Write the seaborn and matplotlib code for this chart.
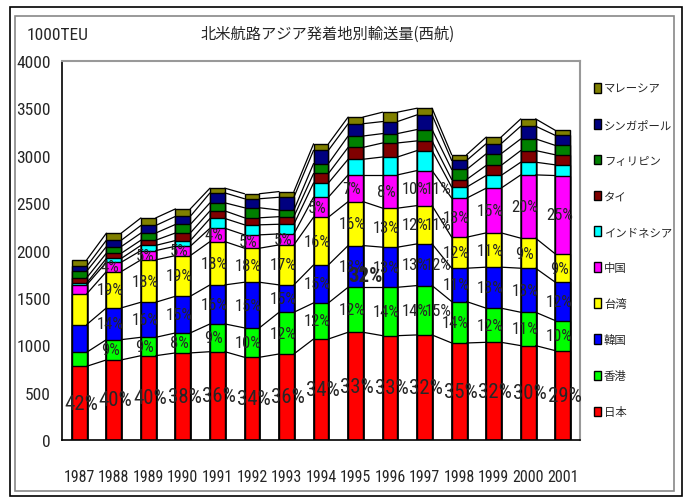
import numpy as np
import pandas as pd
import matplotlib
matplotlib.use("Agg")
import matplotlib.pyplot as plt
from matplotlib import font_manager
from matplotlib.patches import Patch, Rectangle
import seaborn as sns

# 年次
years = ["1987", "1988", "1989", "1990", "1991", "1992", "1993", "1994",
         "1995", "1996", "1997", "1998", "1999", "2000", "2001"]

# 1000TEU, 下から積み上げ順
japan     = [778, 845, 890, 919, 932, 873, 908, 1066, 1137, 1101, 1109, 1024, 1031, 996, 943]
hongkong  = [148, 214, 194, 211, 293, 310, 440, 381, 475, 511, 521, 437, 360, 352, 317]
korea     = [292, 335, 370, 387, 412, 482, 289, 401, 440, 423, 440, 352, 433, 465, 405]
taiwan    = [324, 383, 447, 429, 457, 359, 422, 504, 464, 412, 404, 327, 362, 317, 299]
china     = [95, 99, 98, 99, 141, 141, 116, 211, 282, 351, 370, 412, 472, 668, 827]
indonesia = [20, 40, 55, 60, 103, 106, 102, 150, 165, 189, 211, 116, 134, 134, 113]
thailand  = [55, 55, 55, 80, 80, 74, 80, 100, 125, 148, 102, 81, 106, 123, 106]
philippines = [70, 70, 75, 90, 85, 106, 70, 105, 120, 99, 120, 106, 123, 123, 99]
singapore = [50, 67, 80, 85, 105, 95, 135, 140, 130, 127, 155, 95, 106, 134, 106]
malaysia  = [69, 75, 80, 79, 50, 53, 60, 68, 70, 99, 70, 60, 70, 77, 53]

# ラベル(%)
pct_japan  = [42, 40, 40, 38, 36, 34, 36, 34, 33, 33, 32, 35, 32, 30, 29]
pct_hk     = [None, 9, 9, 8, 9, 10, 12, 12, 12, 14, 14, 14, 12, 11, 10]
pct_korea  = [None, 14, 16, 15, 16, 15, 15, 15, 13, 13, 13, 11, 13, 13, 12]
pct_taiwan = [None, 19, 18, 19, 18, 18, 17, 16, 16, 13, 12, 12, 11, 9, 9]
pct_china  = [None, 4, 5, 5, 4, 5, 5, 5, 7, 8, 10, 13, 15, 20, 25]
# 1997年に重なって出ている2つ目のラベル
pct_1997_extra = {"香港": 15, "韓国": 12, "台湾": 11, "中国": 11}
stray_label = "32%"

names = ["日本", "香港", "韓国", "台湾", "中国", "インドネシア", "タイ",
         "フィリピン", "シンガポール", "マレーシア"]
series = [japan, hongkong, korea, taiwan, china, indonesia, thailand,
          philippines, singapore, malaysia]
colors = ["#FF0000", "#00FF00", "#0000FF", "#FFFF00", "#FF00FF", "#00FFFF",
          "#800000", "#008000", "#000080", "#808000"]

df = pd.DataFrame(dict(zip(names, series)), index=years)
cum = df.cumsum(axis=1)

sns.set_style("white")

# 細めの欧文フォントを探す
installed = {f.name for f in font_manager.fontManager.ttflist}
narrow_fam = None
for cand in ["Liberation Sans Narrow", "Roboto Condensed", "Open Sans Condensed",
             "Noto Sans Condensed", "DejaVu Sans Condensed"]:
    if cand in installed:
        narrow_fam = cand
        break
condensed_dv = any(f.name == "DejaVu Sans" and f.stretch in ("condensed", 500 - 125)
                   for f in font_manager.fontManager.ttflist)
if narrow_fam:
    plt.rcParams["font.family"] = [narrow_fam, "DejaVu Sans"]
    stretch = "normal"
    k = 1.0
else:
    plt.rcParams["font.family"] = ["DejaVu Sans"]
    stretch = "condensed" if condensed_dv else "normal"
    k = 0.85 if condensed_dv else 0.72
plt.rcParams["font.stretch"] = stretch
jp = ["Noto Sans CJK JP", "DejaVu Sans"]

fig = plt.figure(figsize=(6.88, 5.02), dpi=100)
ax = fig.add_axes([62 / 688, 61 / 502, 518 / 688, 379 / 502])

bar_w = 0.43
# 上の系列から順に累積値を描き、下の系列で上書きする
for name, col in reversed(list(zip(names, colors))):
    sns.barplot(x=years, y=cum[name].values, color=col, width=bar_w,
                edgecolor="black", linewidth=1.0, errorbar=None, ax=ax,
                saturation=1)

# 系列線
xs = np.arange(len(years))
for name in names:
    v = cum[name].values
    for i in range(len(years) - 1):
        ax.plot([xs[i] + bar_w / 2, xs[i + 1] - bar_w / 2], [v[i], v[i + 1]],
                color="black", lw=0.9, zorder=1)

# データラベル
label_sets = [("日本", pct_japan), ("香港", pct_hk), ("韓国", pct_korea),
              ("台湾", pct_taiwan), ("中国", pct_china)]
for name, pcts in label_sets:
    top = cum[name].values
    bottom = top - df[name].values
    for i, p in enumerate(pcts):
        if p is None:
            continue
        big = name == "日本"
        dx = 0.05 if big else -0.1
        if years[i] == "1997" and not big:
            dx = -0.28
        ax.text(xs[i] + dx, (top[i] + bottom[i]) / 2, f"{p}%",
                ha="center", va="center", fontsize=(15 if big else 12) * k,
                zorder=5)
i97 = years.index("1997")
for name, p in pct_1997_extra.items():
    top = cum[name].values[i97]
    bottom = top - df[name].values[i97]
    ax.text(xs[i97] + 0.4, (top + bottom) / 2, f"{p}%", ha="center",
            va="center", fontsize=12 * k, zorder=5)
ax.text(8.28, 1740, stray_label, ha="center", va="center", fontsize=15 * k,
        fontweight="bold", zorder=6)

ax.set_xlim(-0.5, len(years) - 0.5)
ax.set_ylim(0, 4000)
ax.set_yticks(np.arange(0, 4001, 500))
ax.tick_params(axis="y", direction="in", length=4, pad=8, labelsize=12.5 * k)
ax.set_xticks(xs)
ax.set_xticklabels(years)
ax.tick_params(axis="x", length=0, pad=21, labelsize=11.5 * k)
ax.set_xticks(xs[:-1] + 0.5, minor=True)
ax.tick_params(axis="x", which="minor", direction="in", length=4)
ax.set_xlabel("")
ax.set_ylabel("")
for s in ["left", "bottom"]:
    ax.spines[s].set_color("black")
    ax.spines[s].set_linewidth(1.2)
for s in ["top", "right"]:
    ax.spines[s].set_color("#999999")
    ax.spines[s].set_linewidth(1.5)

fig.text(328 / 688, 1 - 34 / 502, "北米航路アジア発着地別輸送量(西航)",
         ha="center", va="center", fontsize=11, family=jp)
fig.text(58 / 688, 1 - 36 / 502, "1000TEU", ha="center", va="center",
         fontsize=12.5 * k)

handles = [Patch(facecolor=c, edgecolor="black", linewidth=1.0)
           for c in reversed(colors)]
fig.legend(handles, list(reversed(names)), loc="upper left",
           bbox_to_anchor=(584 / 688, 1 - 74 / 502), frameon=False,
           prop={"family": jp, "size": 8.2}, handlelength=0.55,
           handleheight=0.9, handletextpad=0.3, labelspacing=2.2)

# 外枠
fig.add_artist(Rectangle((10 / 688, 5 / 502), 672 / 688, 489 / 502,
                         transform=fig.transFigure, fill=False,
                         edgecolor="black", lw=1.2))
fig.add_artist(Rectangle((15 / 688, 10 / 502), 659 / 688, 475 / 502,
                         transform=fig.transFigure, fill=False,
                         edgecolor="#888888", lw=1.2))

fig.savefig("out.png", dpi=100)
